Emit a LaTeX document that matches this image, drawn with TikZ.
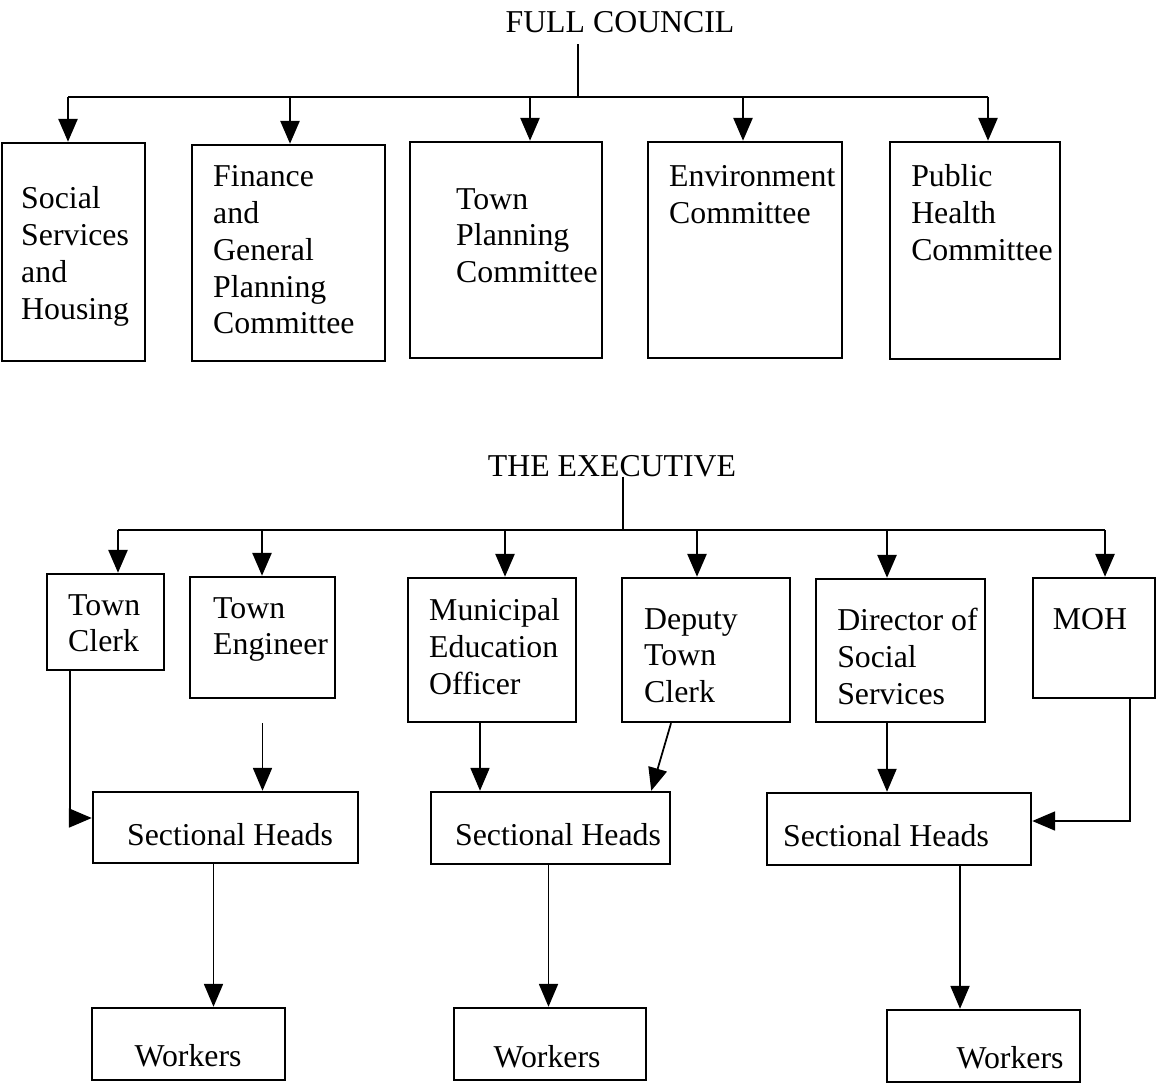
\documentclass[tikz,border=0pt]{standalone}
\usepackage{fontspec}
\setmainfont{Liberation Serif}
\usetikzlibrary{arrows.meta}

\begin{document}
\begin{tikzpicture}[>={Triangle[length=6.5pt,width=5.4pt]}, line width=0.7pt]
      \tikzstyle{box} = [draw=black, rectangle, inner sep = 0pt]
      \tikzstyle{txt} = [inner sep = 0pt, align=left, font=\fontsize{9.05}{10.5}\selectfont]

      \useasboundingbox (0,0) rectangle (11.56,-10.86);

      %%%%%%%%%%%%%%%%%%%%%%%%%%%%%% 
      %% The council and its committees
      %%%%%%%%%%%%%%%%%%%%%%%%%%%%%% 
      \node[txt, inner sep=3pt] (fc) at (6.20,-0.22) {FULL COUNCIL};

      \node[box, minimum width=1.43cm, minimum height=2.18cm] (c1) at (0.735,-2.52) {};
      \node[box, minimum width=1.93cm, minimum height=2.16cm] (c2) at (2.885,-2.53) {};
      \node[box, minimum width=1.92cm, minimum height=2.16cm] (c3) at (5.06,-2.50) {};
      \node[box, minimum width=1.94cm, minimum height=2.16cm] (c4) at (7.45,-2.50) {};
      \node[box, minimum width=1.70cm, minimum height=2.17cm] (c5) at (9.75,-2.505) {};

      \node[txt, anchor=north west] (c1t) at (0.20,-1.85) {Social\\Services\\and\\Housing};
      \node[txt, anchor=north west] (c2t) at (2.12,-1.64) {Finance\\and\\General\\Planning\\Committee};
      \node[txt, anchor=north west] (c3t) at (4.55,-1.87) {Town\\Planning\\Committee};
      \node[txt, anchor=north west] (c4t) at (6.68,-1.64) {Environment\\Committee};
      \node[txt, anchor=north west] (c5t) at (9.10,-1.63) {Public\\Health\\Committee};

      % bus from the council down to the committees
      \coordinate (t0) at (5.78,-0.97);
      \coordinate (t1) at (0.68,-0.97);
      \coordinate (t2) at (2.90,-0.97);
      \coordinate (t3) at (5.30,-0.97);
      \coordinate (t4) at (7.43,-0.97);
      \coordinate (t5) at (9.88,-0.97);

      \draw (fc.south -| t0) -- (t0);
      \draw (t1) -- (t5);

      \draw[->] (t1) -- (t1 |- c1.north);
      \draw[->] (t2) -- (t2 |- c2.north);
      \draw[->] (t3) -- (t3 |- c3.north);
      \draw[->] (t4) -- (t4 |- c4.north);
      \draw[->] (t5) -- (t5 |- c5.north);

      %%%%%%%%%%%%%%%%%%%%%%%%%%%%%% 
      %% The executive, its officers and staff
      %%%%%%%%%%%%%%%%%%%%%%%%%%%%%% 
      \node[txt, inner sep=3pt] (ex) at (6.12,-4.66) {THE EXECUTIVE};

      \node[box, minimum width=1.17cm, minimum height=0.96cm] (e1) at (1.055,-6.22) {};
      \node[box, minimum width=1.45cm, minimum height=1.21cm] (e2) at (2.625,-6.375) {};
      \node[box, minimum width=1.68cm, minimum height=1.44cm] (e3) at (4.92,-6.50) {};
      \node[box, minimum width=1.68cm, minimum height=1.44cm] (e4) at (7.06,-6.50) {};
      \node[box, minimum width=1.69cm, minimum height=1.43cm] (e5) at (9.005,-6.505) {};
      \node[box, minimum width=1.22cm, minimum height=1.20cm] (e6) at (10.94,-6.38) {};

      \node[txt, anchor=north west] (e1t) at (0.67,-5.93) {Town\\Clerk};
      \node[txt, anchor=north west] (e2t) at (2.12,-5.96) {Town\\Engineer};
      \node[txt, anchor=north west] (e3t) at (4.28,-5.97) {Municipal\\Education\\Officer};
      \node[txt, anchor=north west] (e4t) at (6.43,-6.07) {Deputy\\Town\\Clerk};
      \node[txt, anchor=north west] (e5t) at (8.36,-6.07) {Director of\\Social\\Services};
      \node[txt, anchor=north] (e6t) at (10.90,-6.07) {MOH};

      \node[box, minimum width=2.65cm, minimum height=0.71cm] (s1) at (2.255,-8.275) {};
      \node[box, minimum width=2.39cm, minimum height=0.72cm] (s2) at (5.505,-8.28) {};
      \node[box, minimum width=2.64cm, minimum height=0.72cm] (s3) at (8.99,-8.29) {};

      \node[txt] (s1t) at (2.30,-8.35) {Sectional Heads};
      \node[txt] (s2t) at (5.58,-8.35) {Sectional Heads};
      \node[txt] (s3t) at (8.86,-8.36) {Sectional Heads};

      \node[box, minimum width=1.93cm, minimum height=0.72cm] (w1) at (1.885,-10.44) {};
      \node[box, minimum width=1.92cm, minimum height=0.72cm] (w2) at (5.50,-10.44) {};
      \node[box, minimum width=1.93cm, minimum height=0.72cm] (w3) at (9.835,-10.46) {};

      \node[txt] (w1t) at (1.88,-10.56) {Workers};
      \node[txt] (w2t) at (5.47,-10.57) {Workers};
      \node[txt] (w3t) at (10.10,-10.58) {Workers};

      % bus from the executive down to the officers
      \coordinate (u0) at (6.23,-5.30);
      \coordinate (u1) at (1.18,-5.30);
      \coordinate (u2) at (2.62,-5.30);
      \coordinate (u3) at (5.05,-5.30);
      \coordinate (u4) at (6.97,-5.30);
      \coordinate (u5) at (8.87,-5.30);
      \coordinate (u6) at (11.05,-5.30);

      \draw ([yshift=0.12cm]ex.south -| u0) -- (u0);
      \draw (u1) -- (u6);

      \draw[->] (u1) -- (u1 |- e1.north);
      \draw[->] (u2) -- (u2 |- e2.north);
      \draw[->] (u3) -- (u3 |- e3.north);
      \draw[->] (u4) -- (u4 |- e4.north);
      \draw[->] (u5) -- (u5 |- e5.north);
      \draw[->] (u6) -- (u6 |- e6.north);

      % officers to sectional heads
      \coordinate (k1) at (0.70,-8.18);
      \draw[->, line width=0.5pt] (e1.south -| k1) |- (s1.west |- k1);
      \draw[->, line width=0.5pt] ([yshift=-0.24cm]e2.south) -- (e2.south |- s1.north);
      \draw[->, line width=0.5pt] ([xshift=-0.12cm]e3.south) -- ([xshift=-0.12cm]e3.south |- s2.north);
      \draw[->, line width=0.5pt] ([xshift=-0.35cm]e4.south) -- ([xshift=-0.20cm]s2.north east);
      \draw[->, line width=0.5pt] ([xshift=-0.135cm]e5.south) -- ([xshift=-0.135cm]e5.south |- s3.north);
      \draw[->, line width=0.5pt] ([xshift=0.36cm]e6.south) |- ([yshift=0.08cm]s3.east);

      % sectional heads to workers
      \draw[->, line width=0.5pt] ([xshift=-0.12cm]s1.south) -- ([xshift=-0.12cm]s1.south |- w1.north);
      \draw[->, line width=0.5pt] ([xshift=-0.02cm]s2.south) -- ([xshift=-0.02cm]s2.south |- w2.north);
      \draw[->, line width=0.5pt] ([xshift=0.61cm]s3.south) -- ([xshift=0.61cm]s3.south |- w3.north);

    \end{tikzpicture}
\end{document}
